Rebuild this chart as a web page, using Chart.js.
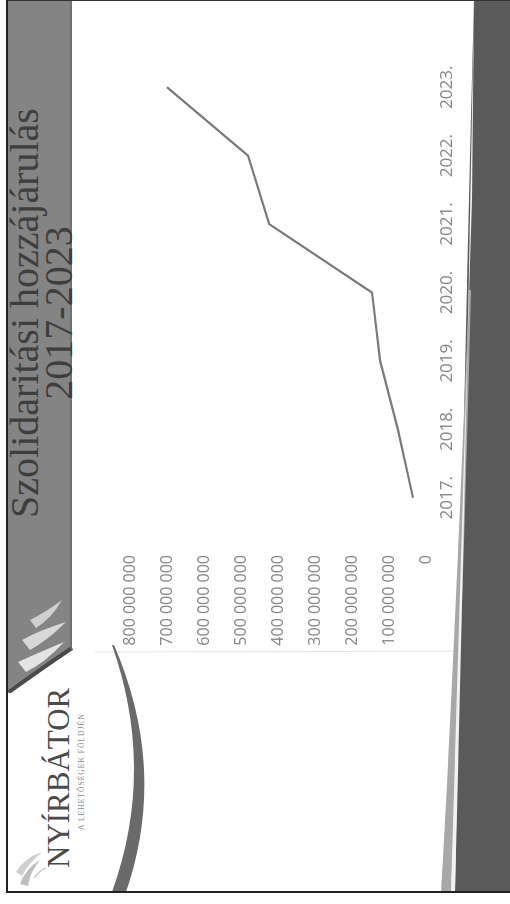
<!DOCTYPE html>
<html><head><meta charset="utf-8">
<script src="https://cdn.jsdelivr.net/npm/chart.js@4.4.1/dist/chart.umd.min.js"></script>
<style>
html,body{margin:0;padding:0;background:#fff;width:510px;height:904px;overflow:hidden;}
#bg{position:absolute;left:0;top:0;}
#slide{position:absolute;left:0;top:0;width:892px;height:503px;transform-origin:0 0;transform:translate(7px,892px) rotate(-90deg);}
.t{position:absolute;white-space:nowrap;font-family:"Liberation Serif","DejaVu Serif",serif;}
.title{left:329px;width:500px;text-align:center;color:#3e3e3e;font-size:40px;line-height:40px;}
#logo{left:24px;top:36px;font-size:31px;line-height:31px;color:#4a4a4a;}
#sub{left:62px;top:71px;font-size:7.5px;line-height:8px;letter-spacing:1.05px;color:#8a8a8a;}
#chartBox{position:absolute;left:230px;top:100px;width:640px;height:380px;}
</style></head>
<body>
<svg id="bg" width="510" height="904" viewBox="0 0 510 904">
  <path d="M7,0 L72,0 L72,650 Q45,668 10,693 L7,693 Z" fill="#848484"/>
  <path d="M72,648 Q45,666 9,692" stroke="#4a4a4a" stroke-width="4" fill="none"/>
  <line x1="71" y1="0" x2="71" y2="650" stroke="#6a6a6a" stroke-width="1.5"/>
  <path d="M22,640 Q40,630 66,622 Q48,640 30,650 Z" fill="#d8d8d8"/>
  <path d="M18,662 Q40,652 64,642 Q46,662 26,672 Z" fill="#e4e4e4"/>
  <path d="M30,620 Q46,612 62,600 Q52,618 36,628 Z" fill="#cfcfcf"/>
  <line x1="95" y1="652" x2="510" y2="651" stroke="#e6e6e6" stroke-width="1.2"/>
  <path d="M112,645 Q156,770 112,892 L126,892 Q168,770 114,645 Z" fill="#6a6a6a"/>
  <path d="M474,0 C466,300 460,600 455,892 L510,892 L510,0 Z" fill="#5a5a5a"/>
  <path d="M469,290 C459,540 449,760 441,892 L451,892 C457,760 465,540 471,290 Z" fill="#a8a8a8"/>
  <path d="M472,200 C462,520 455,760 451,892 L455,892 C460,700 466,450 474,0 Z" fill="#f2f2f2"/>
  <path d="M20,884 Q26,868 40,860 Q30,872 28,886 Z" fill="#bdbdbd"/>
  <path d="M16,872 Q24,858 42,852 Q28,864 22,876 Z" fill="#cfcfcf"/>
  <path d="M34,878 Q40,870 46,868" stroke="#bbb" stroke-width="1.2" fill="none"/>
  <line x1="7" y1="0" x2="7" y2="893" stroke="#222" stroke-width="2"/>
  <line x1="6" y1="892" x2="510" y2="892" stroke="#222" stroke-width="2.2"/>
  <line x1="7" y1="0.5" x2="510" y2="0.5" stroke="#333" stroke-width="1.2"/>
</svg>
<div id="slide">
  <div class="t title" style="top:-2.5px;">Szolidaritási hozzájárulás</div>
  <div class="t title" style="top:32px;">2017-2023</div>
  <div class="t" id="logo">NYÍRBÁTOR</div>
  <div class="t" id="sub">A LEHETŐSÉGEK FÖLDJÉN</div>
  <div id="chartBox"><canvas id="c" width="640" height="380"></canvas></div>
</div>
<script>
const years = ['2017.', '2018.', '2019.', '2020.', '2021.', '2022.', '2023.'];
const amounts = [35000000, 76000000, 124000000, 146000000, 424000000, 481000000, 700000000];
const yMin = 0;
const yMax = 800000000;
const yStep = 100000000;

function fmt(v){ return String(v).replace(/\B(?=(\d{3})+(?!\d))/g, ' '); }

new Chart(document.getElementById('c'), {
  type: 'line',
  data: {
    labels: years,
    datasets: [{
      data: amounts,
      borderColor: '#7a7a7a',
      borderWidth: 2.2,
      pointRadius: 0,
      tension: 0,
      fill: false
    }]
  },
  options: {
    responsive: false,
    animation: false,
    devicePixelRatio: 1,
    layout: { padding: { top: 23, right: 31, left: 0, bottom: 0 } },
    plugins: { legend: { display: false }, tooltip: { enabled: false }, title: { display: false } },
    scales: {
      x: {
        offset: true,
        grid: { display: false, drawTicks: false },
        border: { display: false },
        ticks: { color: '#858585', font: { family: 'Open Sans', size: 17 }, padding: 11, maxRotation: 0, autoSkip: false },
        afterFit: s => { s.height = 61; s.paddingLeft = 0; s.paddingRight = 0; }
      },
      y: {
        min: yMin, max: yMax,
        grid: { display: false, drawTicks: false },
        border: { display: false },
        ticks: { stepSize: yStep, color: '#858585', font: { family: 'Open Sans', size: 16 }, padding: 23, callback: v => fmt(v) },
        afterFit: s => { s.width = 130; s.paddingTop = 0; s.paddingBottom = 0; }
      }
    }
  }
});
</script>
</body></html>
